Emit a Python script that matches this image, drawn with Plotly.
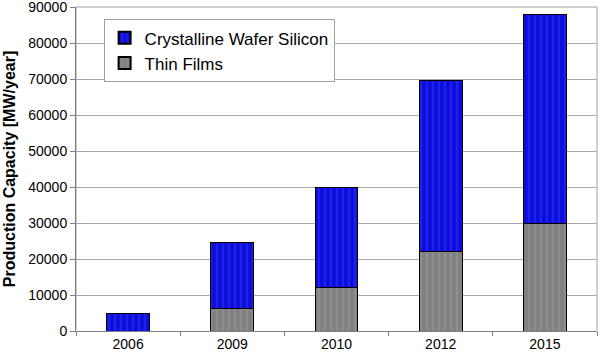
import plotly.graph_objects as go

years = ["2006", "2009", "2010", "2012", "2015"]
thin_films = [0, 6200, 12000, 22000, 30000]
crystalline_total = [5000, 24600, 39800, 69600, 87800]
crystalline = [t - f for t, f in zip(crystalline_total, thin_films)]

fig = go.Figure()
fig.add_trace(go.Bar(
    x=years, y=thin_films, name="Thin Films",
    marker=dict(color="#888888", line=dict(color="#000000", width=1),
                pattern=dict(shape="|", fgcolor="#9a9a9a", bgcolor="#808080", size=6, solidity=0.4)),
))
fig.add_trace(go.Bar(
    x=years, y=crystalline, name="Crystalline Wafer Silicon",
    marker=dict(color="#1515ee", line=dict(color="#000000", width=1),
                pattern=dict(shape="|", fgcolor="#3333ff", bgcolor="#0d0dd8", size=6, solidity=0.4)),
))

fig.update_layout(
    width=600, height=355,
    barmode="stack", bargap=0.59,
    margin=dict(l=76, r=3, t=7, b=24, autoexpand=False),
    paper_bgcolor="white", plot_bgcolor="white",
    font=dict(family="Liberation Sans, Arial, sans-serif", size=14, color="black"),
    showlegend=True,
    legend=dict(
        x=0.053, y=0.962, xanchor="left", yanchor="top",
        bgcolor="white", bordercolor="#a0a0a0", borderwidth=1,
        font=dict(size=17), traceorder="reversed",
        tracegroupgap=0, itemsizing="constant", itemwidth=30,
    ),
    xaxis=dict(
        type="category", tickson="boundaries", ticks="outside", ticklen=4,
        tickcolor="#808080", showline=True, linecolor="#808080", linewidth=1,
        mirror=False, showgrid=False, tickfont=dict(size=14), automargin=False,
    ),
    yaxis=dict(
        range=[0, 90000], dtick=10000, tickformat="d",
        ticks="outside", ticklen=5, tickcolor="#808080",
        showline=True, linecolor="#808080", linewidth=1,
        showgrid=True, gridcolor="#a8a8a8", gridwidth=1,
        tickfont=dict(size=14), automargin=False, ticklabeloverflow="allow",
        title=dict(text="<b>Production Capacity [MW/year]</b>", font=dict(size=16), standoff=8),
    ),
)
# right and top frame
fig.add_shape(type="rect", xref="paper", yref="paper", x0=0, y0=0, x1=1, y1=1,
              line=dict(color="#a0a0a0", width=1), layer="below")

fig.write_html("out.html", config={"displayModeBar": False},
               post_script="document.body.style.margin='0';document.body.style.overflow='hidden';")
